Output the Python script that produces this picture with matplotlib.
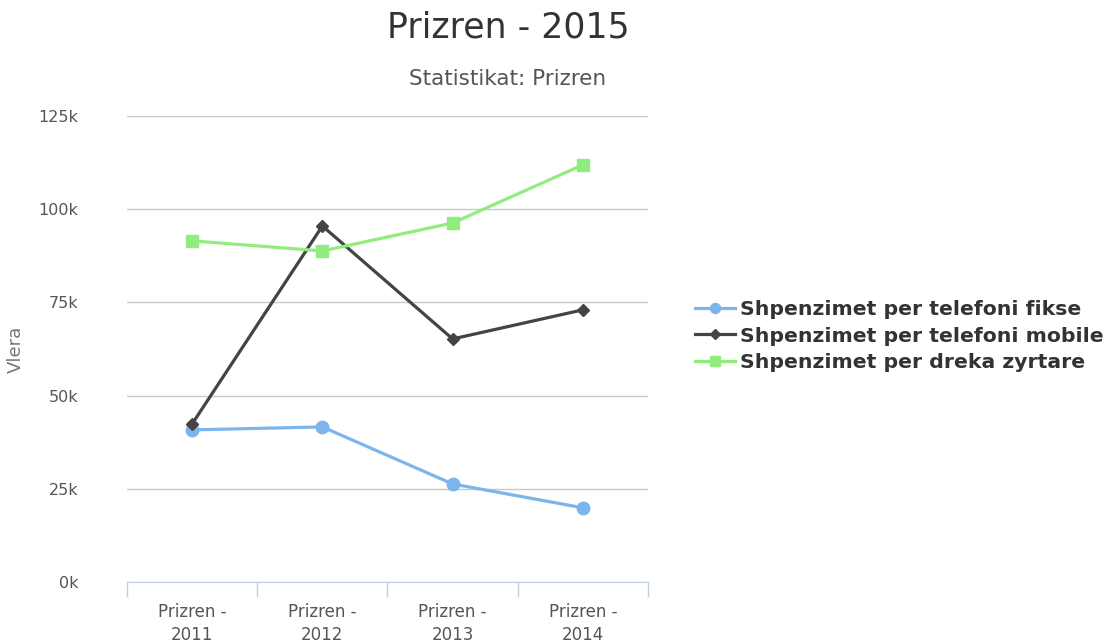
import matplotlib.pyplot as plt
import numpy as np
from matplotlib.ticker import FixedLocator, FuncFormatter

# data
categories = ["Prizren -\n2011", "Prizren -\n2012", "Prizren -\n2013", "Prizren -\n2014"]
fikse = [40800, 41600, 26300, 19900]
mobile = [42400, 95500, 65200, 73000]
dreka = [91500, 88800, 96300, 111900]
series_names = [
    "Shpenzimet per telefoni fikse",
    "Shpenzimet per telefoni mobile",
    "Shpenzimet per dreka zyrtare",
]
y_ticks = [0, 25000, 50000, 75000, 100000, 125000]

plt.rcParams['font.family'] = ['DejaVu Sans']

W, H = 1115, 643
fig = plt.figure(figsize=(W / 100, H / 100), dpi=100)
ax = fig.add_axes([127 / W, (H - 582) / H, (648 - 127) / W, (582 - 116) / H])

x = np.arange(len(categories))
ax.plot(x, fikse, color="#7cb5ec", lw=2.3, marker="o", ms=9, label=series_names[0])
ax.plot(x, mobile, color="#434348", lw=2.3, marker="D", ms=6.5, label=series_names[1])
ax.plot(x, dreka, color="#90ed7d", lw=2.3, marker="s", ms=9, label=series_names[2])

ax.set_xlim(-0.5, len(categories) - 0.5)
ax.set_ylim(0, 125000)
ax.yaxis.set_major_locator(FixedLocator(y_ticks))
ax.yaxis.set_major_formatter(FuncFormatter(lambda v, p: f"{int(v / 1000)}k"))
ax.grid(axis="y", color="#c8c8c8", lw=1)
ax.set_axisbelow(True)

# category labels at centers, tick marks at band edges
ax.set_xticks(x)
ax.set_xticklabels(categories, color="#555555", fontsize=12, linespacing=1.35)
ax.tick_params(axis="x", length=0, pad=15)
ax.set_xticks(np.arange(-0.5, len(categories), 1), minor=True)
ax.tick_params(axis="x", which="minor", length=11, color="#c0d0e0", width=1)
ax.tick_params(axis="y", length=0, labelsize=11.5, labelcolor="#555555", pad=35)

for side in ["top", "right", "left"]:
    ax.spines[side].set_visible(False)
ax.spines["bottom"].set_color("#c0d0e0")

ax.set_ylabel("Vlera", color="#777777", fontsize=13)
ax.yaxis.set_label_coords((25 - 127) / (648 - 127), 0.5)

fig.text(508 / W, 1 - 28 / H, "Prizren - 2015", ha="center", va="center",
         fontsize=25, color="#333333")
fig.text(508 / W, 1 - 79 / H, "Statistikat: Prizren", ha="center", va="center",
         fontsize=15.5, color="#555555")

leg = fig.legend(loc="center left", bbox_to_anchor=(689 / W, 1 - 336 / H), frameon=False,
                 prop={"weight": "bold", "size": 14.7}, handlelength=1.95,
                 labelspacing=0.38, handletextpad=0.25, markerscale=0.8,
                 borderaxespad=0, borderpad=0.3)
for t in leg.get_texts():
    t.set_color("#333333")

fig.savefig("out.png", dpi=100)
